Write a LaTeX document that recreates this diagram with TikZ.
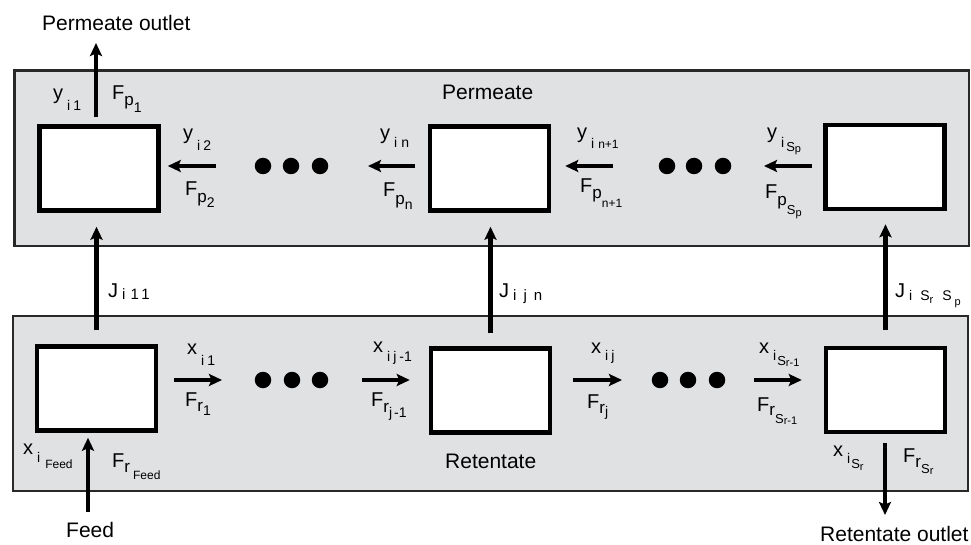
\documentclass[tikz,border=0pt]{standalone}
\usepackage{fontspec}
\setmainfont{Liberation Sans}
\usetikzlibrary{arrows.meta}
\definecolor{panelfill}{RGB}{224,225,227}
\definecolor{edgegray}{RGB}{40,40,40}
\newcommand\dn[3]{\raisebox{-#1}{\fontsize{#2}{#2}\selectfont #3}}
\begin{document}
\begin{tikzpicture}[x=1pt,y=-1pt,
 panel/.style={draw=edgegray, fill=panelfill, line width=2.2pt, inner sep=0pt},
 unit/.style={draw=black, fill=white, line width=4.5pt, minimum width=119pt, minimum height=84pt, inner sep=0pt},
 arr/.style={line width=4.5pt, draw=black, -{Stealth[length=13pt,width=12pt,inset=2.5pt]}},
 dotn/.style={circle, fill=black, minimum size=16.5pt, inner sep=0pt},
 word/.style={anchor=base west, inner sep=0pt, font=\fontsize{21}{21}\selectfont},
 lab/.style={anchor=base west, inner sep=0pt, font=\fontsize{20}{20}\selectfont}]
\useasboundingbox (0,0) rectangle (971,545);
% panels
\node[panel, minimum width=954.5pt, minimum height=175.5pt] (ptop) at (491.75,158.25) {};
\node[panel, minimum width=954.8pt, minimum height=174.8pt] (pbot) at (490.5,403.5) {};
% units
\node[unit] (b1) at (99,168.5) {};
\node[unit] (b2) at (489.5,168.5) {};
\node[unit] (b3) at (885,167) {};
\node[unit] (c1) at (96.5,388.5) {};
\node[unit] (c2) at (490.5,390.5) {};
\node[unit] (c3) at (885.5,390) {};
% dots
\node[dotn] (d1) at (263,166) {};
\node[dotn] (d2) at (291,166) {};
\node[dotn] (d3) at (320,166) {};
\node[dotn] (d4) at (667,166) {};
\node[dotn] (d5) at (694,166) {};
\node[dotn] (d6) at (723,166) {};
\node[dotn] (d7) at (263,380) {};
\node[dotn] (d8) at (292,380) {};
\node[dotn] (d9) at (320,380) {};
\node[dotn] (d10) at (660,380) {};
\node[dotn] (d11) at (688,380) {};
\node[dotn] (d12) at (717,380) {};
% permeate arrows
\coordinate (e1) at (216,166);
\coordinate (e2) at (368,166);
\coordinate (e3) at (613,166);
\coordinate (e4) at (764,166);
\draw[arr, shorten >=7pt] (e1) -- (e1 -| b1.east);
\draw[arr, shorten <=13pt] (e2 -| b2.west) -- (e2);
\draw[arr, shorten >=14pt] (e3) -- (e3 -| b2.east);
\draw[arr, shorten <=11pt] (e4 -| b3.west) -- (e4);
% retentate arrows
\coordinate (f1) at (222,380);
\coordinate (f2) at (362,380);
\coordinate (f3) at (622,380);
\coordinate (f4) at (754,380);
\draw[arr, shorten <=16pt] (f1 -| c1.east) -- (f1);
\draw[arr, shorten >=19pt] (f2) -- (f2 -| c2.west);
\draw[arr, shorten <=21pt] (f3 -| c2.east) -- (f3);
\draw[arr, shorten >=22pt] (f4) -- (f4 -| c3.west);
% vertical arrows
\coordinate (po) at (96,43);
\draw[arr, shorten <=7pt] (po |- b1.north) -- (po);
\draw[arr, shorten <=14pt, shorten >=14pt] (c1.north) -- (c1.north |- b1.south);
\draw[arr, shorten <=13pt, shorten >=14pt] (c2.north) -- (c2.north |- b2.south);
\draw[arr, shorten <=16pt, shorten >=13pt] (c3.north) -- (c3.north |- b3.south);
\coordinate (fd) at (88,512);
\draw[arr, shorten >=5pt] (fd) -- (fd |- c1.south);
\coordinate (ro) at (885,515);
\draw[arr, shorten <=9pt] (ro |- c3.south) -- (ro);
% words
\node[word] (wpo) at (42,31) {Permeate outlet};
\node[word] (wp) at (442,100) {Permeate};
\node[word] (wr) at (445,468) {Retentate};
\node[word] (wf) at (66,537) {Feed};
\node[word] (wro) at (820,541) {Retentate outlet};
% permeate labels
\node[lab] (ly1) at (53,100) {y\hspace{4pt}\dn{11pt}{14}{i\hspace{3pt}1}};
\node[lab] (lf1) at (112,100) {F\dn{6pt}{17}{p\dn{7pt}{14}{1}}};
\node[lab] (ly2) at (183,140) {y\hspace{4pt}\dn{11pt}{14}{i\hspace{3pt}2}};
\node[lab] (lf2) at (185,196) {F\dn{7pt}{17}{p\dn{5pt}{14}{2}}};
\node[lab] (lyn) at (380,140) {y\hspace{4pt}\dn{8pt}{14}{i\hspace{4pt}n}};
\node[lab] (lfn) at (383,197) {F\dn{8pt}{17}{p\dn{5pt}{14}{n}}};
\node[lab] (lyn1) at (577,139) {y\hspace{4pt}\dn{10pt}{14}{i\hspace{4pt}\fontsize{12}{12}\selectfont n+1}};
\node[lab] (lfn1) at (580,193) {F\dn{6pt}{17}{p\dn{9pt}{12}{n+1}}};
\node[lab] (lysp) at (767,139) {y\hspace{4pt}\dn{9pt}{14}{i\hspace{2pt}\dn{4pt}{13}{S\dn{1pt}{11}{p}}}};
\node[lab] (lfsp) at (765,199) {F\dn{6.5pt}{17}{p\dn{9.5pt}{13}{S\dn{1.5pt}{11}{p}}}};
% retentate labels
\node[lab] (lx1) at (187,354) {x\hspace{4pt}\dn{11pt}{14}{i\hspace{3pt}1}};
\node[lab] (lr1) at (185,406) {F\dn{5pt}{17}{r\dn{4pt}{14}{1}}};
\node[lab] (lxj1) at (373,352) {x\hspace{4pt}\dn{9pt}{14}{i\hspace{3pt}j\hspace{3pt}-1}};
\node[lab] (lrj1) at (371,406) {F\dn{6pt}{17}{r\dn{5pt}{14}{j\hspace{2pt}-1}}};
\node[lab] (lxj) at (591,353) {x\hspace{4pt}\dn{7pt}{14}{i\hspace{3pt}j}};
\node[lab] (lrj) at (587,408) {F\dn{5pt}{17}{r\dn{3pt}{14}{j}}};
\node[lab] (lxs1) at (759,353) {x\hspace{4pt}\dn{7pt}{14}{i\hspace{1pt}\dn{5pt}{13}{S\dn{1pt}{11}{r-1}}}};
\node[lab] (lrs1) at (757,411) {F\dn{4.5pt}{17}{r\dn{7.5pt}{13}{S\dn{1pt}{11}{r-1}}}};
\node[lab] (lxf) at (23,454) {x\hspace{4pt}\dn{8pt}{14}{i\hspace{5pt}\dn{6pt}{12}{Feed}}};
\node[lab] (lrf) at (112,467) {F\dn{5pt}{17}{r\hspace{3pt}\dn{7.5pt}{12}{Feed}}};
\node[lab] (lxs) at (833,456) {x\hspace{4pt}\dn{7pt}{14}{i\hspace{1pt}\dn{5pt}{13}{S\dn{2pt}{11}{r}}}};
\node[lab] (lrs) at (903,462) {F\dn{5pt}{17}{r\dn{6pt}{13}{S\dn{1.5pt}{11}{r}}}};
% flux labels
\node[lab] (lj1) at (108,297) {J\hspace{4pt}\dn{2pt}{15}{i\hspace{5pt}1\hspace{2.5pt}1}};
\node[lab] (ljn) at (499,297) {J\hspace{4pt}\dn{3pt}{15}{i\hspace{7pt}j\hspace{7pt}n}};
\node[lab] (ljs) at (895,297) {J\hspace{4pt}\dn{3pt}{14}{i\hspace{8pt}S\dn{3pt}{11}{r}\hspace{9pt}S\hspace{3pt}\dn{5pt}{11}{p}}};
\end{tikzpicture}
\end{document}
